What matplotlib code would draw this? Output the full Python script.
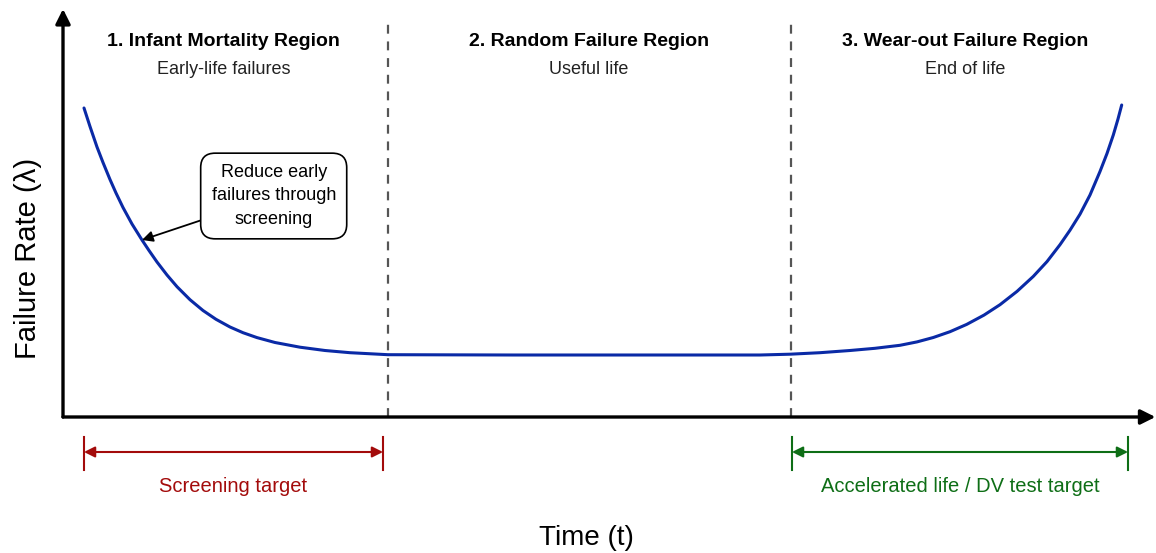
import matplotlib.pyplot as plt

plt.rcParams['font.family'] = ['Liberation Sans', 'DejaVu Sans']

# --- dati ---
time_pts = [0.21, 0.27, 0.34, 0.40, 0.47, 0.53, 0.60, 0.69, 0.79, 0.86, 0.94,
            1.04, 1.14, 1.27, 1.40, 1.53, 1.67, 1.80, 1.94, 2.12, 2.37, 2.62,
            2.87, 3.25, 4.50, 5.50, 6.50,
            6.97, 7.27, 7.57, 7.87, 8.12, 8.37, 8.54, 8.703, 8.87, 9.037, 9.21,
            9.37, 9.54, 9.703, 9.84, 9.97, 10.07, 10.17, 10.27, 10.37, 10.44,
            10.503, 10.55, 10.587]
rate_pts = [3.09, 2.905, 2.70, 2.545, 2.375, 2.24, 2.095, 1.93, 1.77, 1.665, 1.55,
            1.42, 1.303, 1.173, 1.065, 0.977, 0.90, 0.843, 0.794, 0.745, 0.698, 0.665,
            0.643, 0.623, 0.62, 0.62, 0.62,
            0.62, 0.628, 0.643, 0.665, 0.687, 0.717, 0.751, 0.795, 0.853, 0.926, 1.019,
            1.123, 1.256, 1.406, 1.554, 1.723, 1.868, 2.028, 2.22, 2.455, 2.635,
            2.82, 2.98, 3.12]

region_bounds = [3.25, 7.28]
region_titles = ["1. Infant Mortality Region", "2. Random Failure Region",
                 "3. Wear-out Failure Region"]
region_subtitles = ["Early-life failures", "Useful life", "End of life"]
region_centers = [1.605, 5.26, 9.02]

screening_span = [0.21, 3.20]
accel_span = [7.29, 10.65]

fig = plt.figure(figsize=(11.56, 5.53), dpi=100)
ax = fig.add_axes([63 / 1156, 136 / 553, (1150 - 63) / 1156, 402 / 553])
ax.set_xlim(0, 10.87)
ax.set_ylim(0, 4.02)
for s in ax.spines.values():
    s.set_visible(False)
ax.set_xticks([])
ax.set_yticks([])

# assi con freccia
arrow_kw = dict(arrowstyle='-|>', lw=2.4, color='black', mutation_scale=22,
                shrinkA=0, shrinkB=0)
ax.annotate("", xy=(0, 1.015), xytext=(0, 0), xycoords='axes fraction',
            arrowprops=arrow_kw, annotation_clip=False)
ax.annotate("", xy=(1.005, 0), xytext=(0, 0), xycoords='axes fraction',
            arrowprops=arrow_kw, annotation_clip=False)

# curva a vasca da bagno
ax.plot(time_pts, rate_pts, color='#0a2aa6', lw=2.2, solid_capstyle='round',
        solid_joinstyle='round', zorder=3)

# separatori di regione
ax.vlines(region_bounds, 0, 3.95, colors='#555555', linestyles=(0, (4, 3.5)), lw=1.6)

for xc, t, st in zip(region_centers, region_titles, region_subtitles):
    ax.text(xc, 3.75, t, ha='center', va='center', fontsize=14, fontweight='bold')
    ax.text(xc, 3.475, st, ha='center', va='center', fontsize=13, color='#222222')

# nota sullo screening
ax.annotate("Reduce early\nfailures through\nscreening", xy=(0.79, 1.77), xytext=(2.107, 2.21),
            ha='center', va='center', fontsize=13, linespacing=1.5,
            bbox=dict(boxstyle='round,pad=0.6,rounding_size=0.8', fc='white', ec='black', lw=1.2),
            arrowprops=dict(arrowstyle='-|>', color='black', lw=1.3, mutation_scale=16,
                            shrinkA=0, shrinkB=0))

# frecce doppie sotto l'asse
def span_arrow(span, color, label):
    ax.annotate("", xy=(span[1], -0.35), xytext=(span[0], -0.35),
                arrowprops=dict(arrowstyle='<|-|>', color=color, lw=1.5, mutation_scale=16,
                                shrinkA=0, shrinkB=0), annotation_clip=False)
    for x in span:
        ax.plot([x, x], [-0.20, -0.53], color=color, lw=1.5, clip_on=False)
    ax.text(sum(span) / 2, -0.69, label, ha='center', va='center', fontsize=14.5,
            color=color, clip_on=False)

span_arrow(screening_span, '#a30b0b', "Screening target")
span_arrow(accel_span, '#0e6e16', "Accelerated life / DV test target")

fig.text(28 / 1156, 1 - 258 / 553, "Failure Rate (λ)", rotation=90, ha='center', va='center',
         fontsize=21)
fig.text(586 / 1156, 1 - 538 / 553, "Time (t)", ha='center', va='center', fontsize=20)

fig.savefig("out.png", dpi=100, facecolor='white')
